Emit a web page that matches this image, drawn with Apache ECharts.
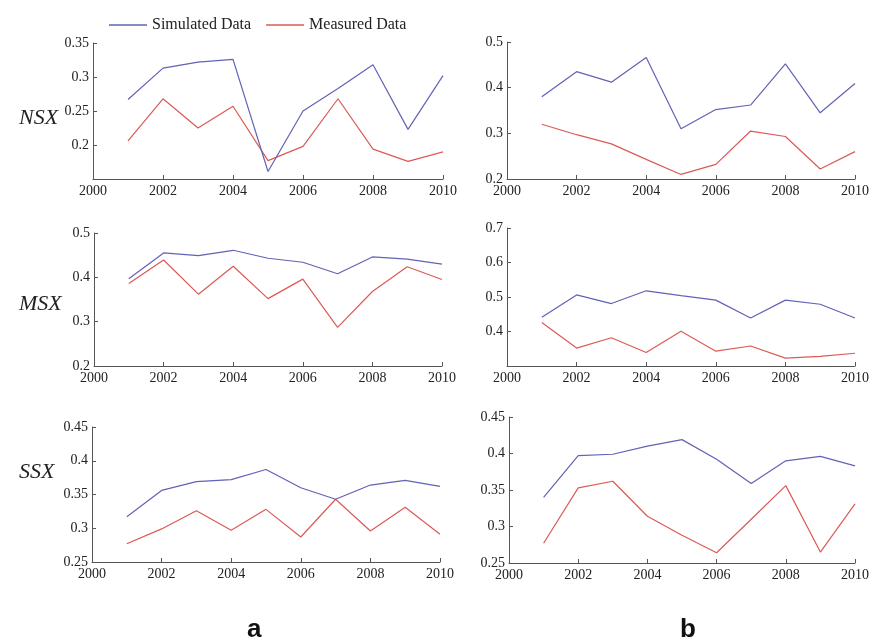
<!DOCTYPE html>
<html>
<head>
<meta charset="utf-8">
<script src="https://cdn.jsdelivr.net/npm/echarts@6/dist/echarts.min.js"></script>
<style>
  html, body { margin: 0; padding: 0; background: #fff; }
  #chart { width: 872px; height: 643px; }
</style>
</head>
<body>
<div id="chart"></div>
<script>
// Years on the horizontal axis
const years = [2001, 2002, 2003, 2004, 2005, 2006, 2007, 2008, 2009, 2010];

// Column a
const nsxSimA = [0.267, 0.313, 0.322, 0.326, 0.161, 0.250, 0.283, 0.318, 0.223, 0.302];
const nsxMeaA = [0.206, 0.268, 0.225, 0.257, 0.177, 0.198, 0.268, 0.194, 0.176, 0.190];
const msxSimA = [0.397, 0.455, 0.449, 0.461, 0.443, 0.434, 0.408, 0.446, 0.441, 0.430];
const msxMeaA = [0.386, 0.439, 0.362, 0.425, 0.352, 0.396, 0.287, 0.368, 0.424, 0.395];
const ssxSimA = [0.317, 0.356, 0.369, 0.372, 0.387, 0.360, 0.343, 0.364, 0.371, 0.362];
const ssxMeaA = [0.277, 0.299, 0.326, 0.297, 0.328, 0.287, 0.343, 0.296, 0.331, 0.291];

// Column b
const nsxSimB = [0.380, 0.435, 0.412, 0.466, 0.310, 0.352, 0.362, 0.452, 0.345, 0.409];
const nsxMeaB = [0.320, 0.297, 0.277, 0.243, 0.210, 0.232, 0.305, 0.293, 0.222, 0.260];
const msxSimB = [0.441, 0.506, 0.481, 0.518, 0.504, 0.491, 0.439, 0.491, 0.479, 0.439];
const msxMeaB = [0.426, 0.352, 0.382, 0.339, 0.401, 0.343, 0.358, 0.323, 0.328, 0.337];
const ssxSimB = [0.340, 0.397, 0.399, 0.410, 0.419, 0.392, 0.359, 0.390, 0.396, 0.383];
const ssxMeaB = [0.277, 0.353, 0.362, 0.314, 0.288, 0.264, 0.310, 0.356, 0.265, 0.331];

// Axis ranges per panel: [min, max, interval]
const yRanges = [
  [0.15, 0.35, 0.05], [0.2, 0.5, 0.1],
  [0.2, 0.5, 0.1],    [0.3, 0.7, 0.1],
  [0.25, 0.45, 0.05], [0.25, 0.45, 0.05]
];
const showMinLabel = [false, true, true, false, true, true];

const rowLabels = ['NSX', 'MSX', 'SSX'];
const colLabels = ['a', 'b'];
const seriesNames = ['Simulated Data', 'Measured Data'];

const panelData = [
  [nsxSimA, nsxMeaA], [nsxSimB, nsxMeaB],
  [msxSimA, msxMeaA], [msxSimB, msxMeaB],
  [ssxSimA, ssxMeaA], [ssxSimB, ssxMeaB]
];

const BLUE = '#6262b6';
const RED = '#dc5a56';
const AXIS = '#555555';
const SERIF = '"Liberation Serif", "DejaVu Serif", serif';

// Plot rectangles
const grids = [
  { left: 93,  top: 43,  width: 350, height: 136 },
  { left: 507, top: 42,  width: 350, height: 137 },
  { left: 94,  top: 233, width: 348, height: 133 },
  { left: 507, top: 228, width: 349, height: 138 },
  { left: 92,  top: 427, width: 348, height: 135 },
  { left: 509, top: 417, width: 347, height: 146 }
];

const pairs = years.map((y, i) => i);
const xAxes = grids.map((g, i) => ({
  type: 'value', gridIndex: i, min: 2000, max: 2010, interval: 2,
  axisLine: { show: true, lineStyle: { color: AXIS, width: 1 } },
  axisTick: { show: true, inside: true, length: 4, lineStyle: { color: AXIS } },
  splitLine: { show: false },
  axisLabel: { color: '#222', fontFamily: SERIF, fontSize: 14, margin: 5,
    formatter: v => String(v) }
}));
const yAxes = grids.map((g, i) => ({
  type: 'value', gridIndex: i,
  min: yRanges[i][0], max: yRanges[i][1], interval: yRanges[i][2],
  axisLine: { show: true, lineStyle: { color: AXIS, width: 1 } },
  axisTick: { show: true, inside: true, length: 4, lineStyle: { color: AXIS } },
  splitLine: { show: false },
  axisLabel: { color: '#222', fontFamily: SERIF, fontSize: 14, margin: 4,
    showMinLabel: showMinLabel[i] }
}));

const series = [];
panelData.forEach((pd, i) => {
  pd.forEach((vals, k) => {
    series.push({
      name: seriesNames[k], type: 'line', xAxisIndex: i, yAxisIndex: i,
      data: years.map((y, j) => [y, vals[j]]),
      symbol: 'none', silent: true, animation: false,
      lineStyle: { color: k === 0 ? BLUE : RED, width: 1.2 },
      itemStyle: { color: k === 0 ? BLUE : RED },
      z: k === 0 ? 3 : 2
    });
  });
});

const rowLabelTop = [102, 288, 456];
const option = {
  animation: false,
  legend: {
    left: 104, top: 12, itemWidth: 38, itemHeight: 1.5, itemGap: 15,
    icon: 'rect',
    textStyle: { fontFamily: SERIF, fontSize: 16, color: '#222' },
    data: seriesNames
  },
  title: rowLabels.map((t, r) => ({
    text: t, left: 14, top: rowLabelTop[r],
    textStyle: { fontFamily: SERIF, fontStyle: 'italic', fontWeight: 'normal', fontSize: 22, color: '#222' }
  })).concat(colLabels.map((t, c) => ({
    text: t, left: c === 0 ? 242 : 675, top: 612,
    textStyle: { fontFamily: '"Liberation Sans", "DejaVu Sans", sans-serif', fontWeight: 'bold', fontSize: 26, color: '#111' }
  }))),
  grid: grids,
  xAxis: xAxes,
  yAxis: yAxes,
  series: series
};

const chart = echarts.init(document.getElementById('chart'), null, { renderer: 'canvas' });
chart.setOption(option);
</script>
</body>
</html>
